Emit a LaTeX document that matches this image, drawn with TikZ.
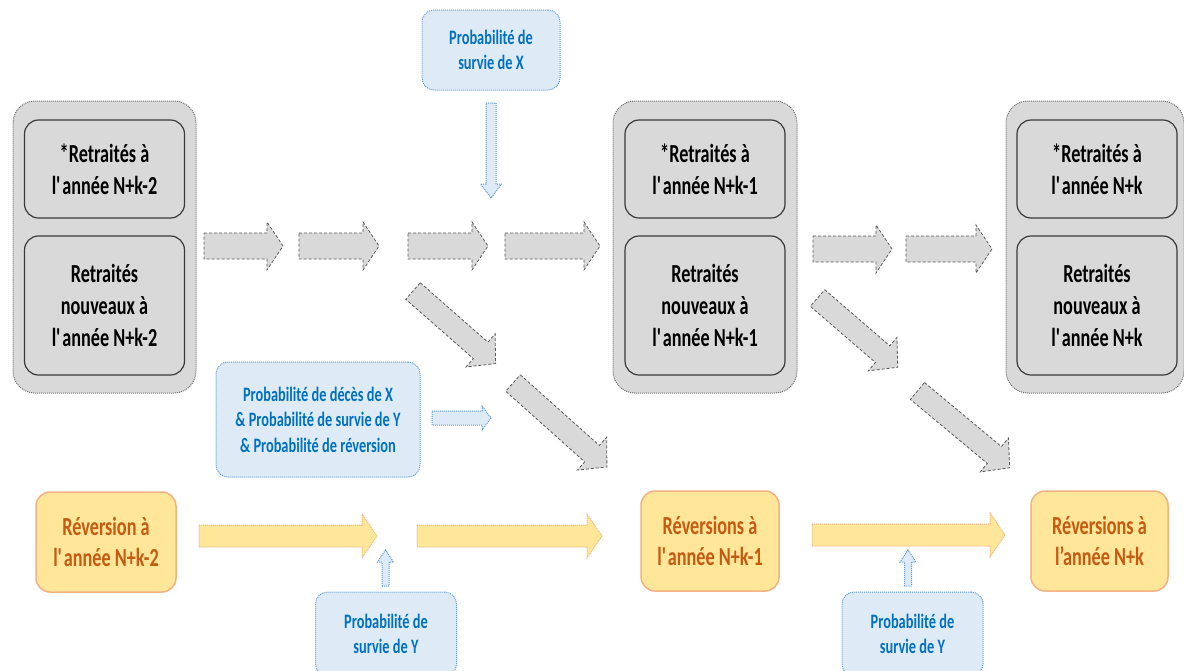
\documentclass[tikz,border=0pt]{standalone}
\usepackage{fontspec}
\setmainfont{Carlito}[FakeStretch=0.7]

\definecolor{boxgray}{HTML}{D9D9D9}
\definecolor{grayline}{HTML}{6F6F6F}
\definecolor{darkline}{HTML}{3A3A3A}
\definecolor{revfill}{HTML}{FFE699}
\definecolor{revline}{HTML}{F4B183}
\definecolor{revtext}{HTML}{C55A11}
\definecolor{probfill}{HTML}{DEEBF7}
\definecolor{probline}{HTML}{5B9BD5}
\definecolor{probtext}{HTML}{0070C0}

% block arrow: style, tail x, tail y, angle, length, half shaft, half head, head length
\newcommand{\blkarrow}[8]{%
  \draw[#1, shift={(#2,#3)}, rotate=#4] (0,-#6) -- ({#5-#8},-#6) -- ({#5-#8},-#7) -- (#5,0)
    -- ({#5-#8},#7) -- ({#5-#8},#6) -- (0,#6) -- cycle;}
\newcommand{\ap}{\textquotesingle}

\begin{document}
\begin{tikzpicture}[x=1pt, y=-1pt,
  grp/.style={draw=grayline, densely dotted, line width=1pt, fill=boxgray, rounded corners=22pt},
  inbox/.style={draw=darkline, line width=1.2pt, fill=boxgray, rounded corners=14pt, minimum width=160pt, align=center, font=\bfseries\fontsize{26}{31.7}\selectfont},
  revbox/.style={draw=revline, line width=1.5pt, fill=revfill, rounded corners=14pt, minimum height=100pt, align=center, text=revtext, font=\bfseries\fontsize{26}{31.7}\selectfont},
  probbox/.style={draw=probline, densely dotted, line width=1pt, fill=probfill, rounded corners=12pt, align=center, text=probtext, font=\bfseries\fontsize{20.5}{25.5}\selectfont},
  grayarrow/.style={draw=black!65, densely dashed, line width=0.8pt, fill=boxgray},
  revarrow/.style={draw=revline, densely dotted, line width=1pt, fill=revfill},
  probarrow/.style={draw=probline, densely dotted, line width=1pt, fill=probfill}
]
\useasboundingbox (0,0) rectangle (1184,670);

% retired groups
\node[grp, minimum width=183pt, minimum height=292pt] (grpA) at (104.5,247) {};
\node[inbox, minimum height=98pt] (oldA) at (104.5,169) {*Retraités à\\l\ap année N+k-2};
\node[inbox, minimum height=139pt] (newA) at (104.5,305.5) {Retraités\\nouveaux à\\l\ap année N+k-2};

\node[grp, minimum width=184pt, minimum height=292pt] (grpB) at (705,247) {};
\node[inbox, minimum height=98pt] (oldB) at (705,169) {*Retraités à\\l\ap année N+k-1};
\node[inbox, minimum height=139pt] (newB) at (705,305.5) {Retraités\\nouveaux à\\l\ap année N+k-1};

\node[grp, minimum width=178pt, minimum height=292pt] (grpC) at (1095,247) {};
\node[inbox, minimum height=98pt] (oldC) at (1097,169) {*Retraités à\\l\ap année N+k};
\node[inbox, minimum height=139pt] (newC) at (1097,305.5) {Retraités\\nouveaux à\\l\ap année N+k};

% reversions
\node[revbox, minimum width=140pt] (revA) at (106,542) {Réversion à\\l\ap année N+k-2};
\node[revbox, minimum width=138pt] (revB) at (710,541) {Réversions à\\l\ap année N+k-1};
\node[revbox, minimum width=137pt] (revC) at (1099.5,541) {Réversions à\\l’année N+k};

% probabilities
\node[probbox, minimum width=138pt, minimum height=80pt] (survX) at (491,50) {Probabilité de\\survie de X};
\node[probbox, minimum width=204pt, minimum height=115pt] (decX) at (318,419.5) {Probabilité de décès de X\\\& Probabilité de survie de Y\\\& Probabilité de réversion};
\node[probbox, minimum width=141pt, minimum height=84pt] (survYa) at (386,634) {Probabilité de\\survie de Y};
\node[probbox, minimum width=141pt, minimum height=84pt] (survYb) at (912.5,634) {Probabilité de\\survie de Y};

% gray flow
\blkarrow{grayarrow}{204}{246}{0}{79}{13}{24}{16}
\blkarrow{grayarrow}{299}{246}{0}{80}{13}{24}{16}
\blkarrow{grayarrow}{408}{246}{0}{80}{13}{24}{16}
\blkarrow{grayarrow}{505}{246}{0}{95}{13}{24}{16}
\blkarrow{grayarrow}{813}{249}{0}{79}{13}{24}{16}
\blkarrow{grayarrow}{906}{249}{0}{86}{13}{24}{16}
\blkarrow{grayarrow}{413}{291}{-41.3}{110}{11}{22}{20}
\blkarrow{grayarrow}{513}{383}{-41.8}{126}{11}{22}{20}
\blkarrow{grayarrow}{817.5}{298}{-40.8}{106}{11}{22}{20}
\blkarrow{grayarrow}{917.5}{391}{-39.8}{120}{11}{22}{20}

% reversion flow
\blkarrow{revarrow}{199}{536}{0}{178}{11}{22}{15}
\blkarrow{revarrow}{417}{536}{0}{185}{11}{22}{15}
\blkarrow{revarrow}{812}{535}{0}{193}{11}{22}{15}

% probability arrows
\blkarrow{probarrow}{491}{103}{-90}{95}{5}{10.5}{14}
\blkarrow{probarrow}{432}{418}{0}{59}{7}{12}{9}
\blkarrow{probarrow}{385.5}{586}{90}{36}{3.5}{8}{12}
\blkarrow{probarrow}{908}{586}{90}{36}{3.5}{8}{12}
\end{tikzpicture}
\end{document}
